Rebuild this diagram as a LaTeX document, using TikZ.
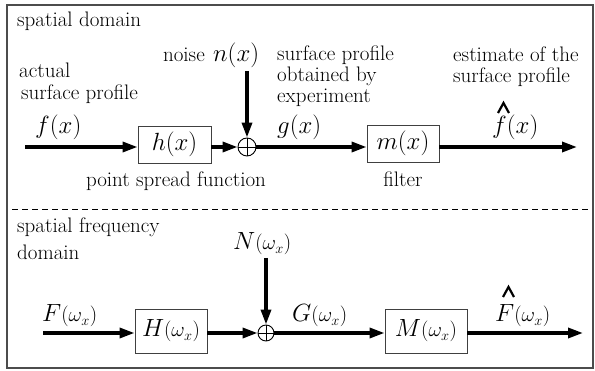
\documentclass[tikz,border=0pt]{standalone}
\usepackage{fontspec}
\usetikzlibrary{arrows.meta}
\begin{document}
\begin{tikzpicture}[x=1pt,y=-1pt,
  txt/.style={font=\fontsize{21}{24}\selectfont, inner sep=0pt, anchor=base west},
  lbl/.style={font=\fontsize{25}{30}\selectfont, inner sep=0pt, anchor=base west},
  blk/.style={draw=black!75, line width=0.9pt, inner sep=0pt, font=\fontsize{25}{30}\selectfont},
  sum/.style={draw, circle, line width=0.9pt, minimum size=18pt, inner sep=0pt},
  sig/.style={line width=3.3pt, -{Triangle[length=15pt,width=10pt]}},
  hatmark/.style={line width=2.2pt, line cap=butt, line join=miter}]
\newcommand{\om}{{\fontsize{22}{26}\selectfont$(\omega_{x})$}}
\useasboundingbox (0,0) rectangle (595,371);
\draw[black!70, line width=1.3pt] (7,5) rectangle (593,368);
\draw[dashed, line width=0.7pt, dash pattern=on 6pt off 4pt] (12,209) -- (590,209);

% ---------- spatial domain ----------
\node[txt] (t1) at (17,27) {spatial domain};
\node[txt] (t2) at (19,78) {actual};
\node[txt] (t3) at (21,100) {surface profile};
\node[lbl] (fx) at (35,134) {$f(x)$};
\coordinate (fin) at (25,147);
\node[blk, minimum width=73pt, minimum height=37pt] (h) at (174.5,144.5) {$h(x)$};
\node[txt, anchor=base] (psf) at (176,187) {point spread function};
\node[sum] (s1) at (247,147) {};
\draw[line width=0.9pt] (s1.north) -- (s1.south) (s1.west) -- (s1.east);
\node[txt, anchor=base east] (noise) at (205,62) {noise};
\node[lbl] (nx) at (213,62) {$n(x)$};
\coordinate (ntop) at (247,71);
\node[txt] (g1) at (277,61) {surface profile};
\node[txt] (g2) at (277,82) {obtained by};
\node[txt] (g3) at (277,103) {experiment};
\node[lbl] (gx) at (277,134) {$g(x)$};
\node[blk, minimum width=72pt, minimum height=37pt] (m) at (403,143.5) {$m(x)$};
\node[txt, anchor=base] (filt) at (403,187) {filter};
\node[txt] (e1) at (453,62) {estimate of the};
\node[txt] (e2) at (453,83) {surface profile};
\node[lbl] (fhat) at (492,134) {$f(x)$};
\draw[hatmark] (498,113) -- (503.5,103) -- (509,113);
\coordinate (fout) at (577,147);

\draw[sig] (fin) -- (fin -| h.west);
\draw[sig] (h.east |- fin) -- (s1.west);
\draw[sig] (ntop) -- (s1.north);
\draw[sig] (s1.east) -- (s1.east -| m.west);
\draw[sig] (m.east |- fin) -- (fout);

% ---------- spatial frequency domain ----------
\node[txt] (t4) at (17,233) {spatial frequency};
\node[txt] (t5) at (17,260) {domain};
\node[lbl] (Fw) at (42,322) {$F$\om};
\coordinate (Fin) at (43,333);
\node[blk, minimum width=72pt, minimum height=44pt] (H) at (171,331) {$H$\om};
\node[sum, minimum size=16pt] (s2) at (266,333) {};
\draw[line width=0.9pt] (s2.north) -- (s2.south) (s2.west) -- (s2.east);
\node[lbl] (Nw) at (233,250) {$N$\om};
\coordinate (Ntop) at (266,258);
\node[lbl] (Gw) at (292,322) {$G$\om};
\node[blk, minimum width=82pt, minimum height=44pt] (M) at (426,331) {$M$\om};
\node[lbl] (Fhat) at (495,322) {$F$\om};
\draw[hatmark] (503,297) -- (508.5,287) -- (514,297);
\coordinate (Fout) at (583,333);

\draw[sig] (Fin) -- (Fin -| H.west);
\draw[sig] (H.east |- Fin) -- (s2.west);
\draw[sig] (Ntop) -- (s2.north);
\draw[sig] (s2.east) -- (s2.east -| M.west);
\draw[sig] (M.east |- Fin) -- (Fout);
\end{tikzpicture}
\end{document}
